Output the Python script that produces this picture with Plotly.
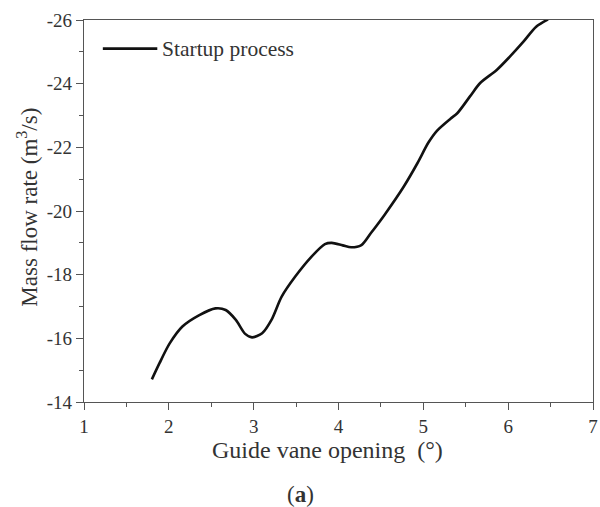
import plotly.graph_objects as go

# Guide vane opening (degrees) and mass flow rate during startup
opening = [1.80, 1.89, 2.01, 2.16, 2.36, 2.55, 2.67, 2.79, 2.90, 2.98, 3.10, 3.21,
           3.33, 3.49, 3.68, 3.84, 3.92, 4.05, 4.15, 4.27, 4.38, 4.54, 4.77, 4.93,
           5.06, 5.16, 5.32, 5.40, 5.55, 5.67, 5.865, 6.02, 6.18, 6.33, 6.47]
flow_rate = [-14.71, -15.22, -15.84, -16.37, -16.73, -16.94, -16.89, -16.58, -16.14, -16.03, -16.16, -16.58,
             -17.31, -17.94, -18.56, -18.96, -19.00, -18.92, -18.86, -18.93, -19.30, -19.87, -20.77, -21.50,
             -22.15, -22.52, -22.90, -23.07, -23.60, -24.02, -24.43, -24.85, -25.32, -25.79, -26.02]

x_ticks = [1, 2, 3, 4, 5, 6, 7]
y_ticks = [-14, -16, -18, -20, -22, -24, -26]
series_name = "Startup process"

FONT = "Liberation Serif"
AXIS_COLOR = "#555555"
TEXT_COLOR = "#333333"

fig = go.Figure()
fig.add_trace(go.Scatter(
    x=opening, y=flow_rate, mode="lines", name=series_name,
    line=dict(color="#111111", width=2.6, shape="spline", smoothing=0.8),
    showlegend=False,
))

axis_common = dict(
    showgrid=False, zeroline=False, showline=True, mirror=True,
    linecolor=AXIS_COLOR, linewidth=1.3,
    ticks="outside", ticklen=7, tickwidth=1.3, tickcolor=AXIS_COLOR,
    tickfont=dict(family=FONT, size=19, color=TEXT_COLOR),
    ticklabeloverflow="allow",
)

fig.update_xaxes(
    range=[1, 7], tickvals=x_ticks, ticktext=[str(v) for v in x_ticks],
    minor=dict(ticks="outside", ticklen=4, tickwidth=1.3, tickcolor=AXIS_COLOR, dtick=0.5),
    **axis_common,
)
fig.update_yaxes(
    range=[-14, -26], tickvals=y_ticks, ticktext=[str(v) for v in y_ticks],
    minor=dict(ticks="outside", ticklen=4, tickwidth=1.3, tickcolor=AXIS_COLOR, dtick=1),
    **axis_common,
)

# Legend key: short line segment with label, inside the upper-left corner
fig.add_shape(type="line", xref="paper", yref="paper",
              x0=0.037, x1=0.144, y0=0.925, y1=0.925,
              line=dict(color="#111111", width=2.6))
fig.add_annotation(text=series_name, xref="paper", yref="paper",
                   x=0.150, y=0.925, xanchor="left", yanchor="middle", showarrow=False,
                   font=dict(family=FONT, size=21.5, color=TEXT_COLOR))

# Axis titles and panel label
fig.add_annotation(text="Guide vane opening  (°)", xref="paper", yref="paper",
                   x=0.479, y=-0.126, xanchor="center", yanchor="middle", showarrow=False,
                   font=dict(family=FONT, size=24, color=TEXT_COLOR))
fig.add_annotation(text="Mass flow rate (m<sup>3</sup>/s)", xref="paper", yref="paper",
                   x=-0.111, y=0.51, xanchor="center", yanchor="middle", showarrow=False,
                   textangle=-90,
                   font=dict(family=FONT, size=23, color=TEXT_COLOR))
fig.add_annotation(text="(<b>a</b>)", xref="paper", yref="paper",
                   x=0.426, y=-0.243, xanchor="center", yanchor="middle", showarrow=False,
                   font=dict(family=FONT, size=23, color=TEXT_COLOR))

fig.update_layout(
    width=600, height=507,
    margin=dict(l=84, r=2, t=20, b=105),
    paper_bgcolor="white", plot_bgcolor="white",
)

fig.write_html("out.html")
